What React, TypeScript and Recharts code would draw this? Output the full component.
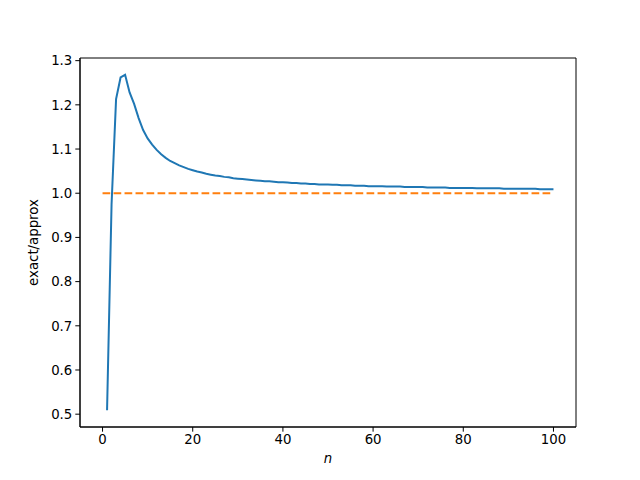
import { LineChart, Line, XAxis, YAxis, ReferenceArea } from "recharts"

// exact/approx ratio, for n = 1..100
const ratioValues = [
  0.509, 0.975, 1.213, 1.262, 1.268, 1.228, 1.202, 1.17, 1.143, 1.124,
  1.11, 1.098, 1.088, 1.08, 1.073, 1.068, 1.063, 1.059, 1.055, 1.052,
  1.049, 1.047, 1.044, 1.042, 1.04, 1.039, 1.037, 1.036, 1.034, 1.033,
  1.032, 1.031, 1.03, 1.029, 1.028, 1.027, 1.027, 1.026, 1.025, 1.025,
  1.024, 1.023, 1.023, 1.022, 1.022, 1.021, 1.021, 1.02, 1.02, 1.02,
  1.019, 1.019, 1.018, 1.018, 1.018, 1.017, 1.017, 1.017, 1.016, 1.016,
  1.016, 1.016, 1.015, 1.015, 1.015, 1.015, 1.014, 1.014, 1.014, 1.014,
  1.014, 1.013, 1.013, 1.013, 1.013, 1.013, 1.012, 1.012, 1.012, 1.012,
  1.012, 1.012, 1.011, 1.011, 1.011, 1.011, 1.011, 1.011, 1.01, 1.01,
  1.01, 1.01, 1.01, 1.01, 1.01, 1.01, 1.009, 1.009, 1.009, 1.009,
]
const referenceN = [0, 100]
const referenceValue = 1

const xTicks = [0, 20, 40, 60, 80, 100]
const yTicks = [0.5, 0.6, 0.7, 0.8, 0.9, 1.0, 1.1, 1.2, 1.3]
const xDomain = [-5, 105]
const yDomain = [0.471, 1.306]

const ratioData = ratioValues.map((v, i) => ({ n: i + 1, v }))
const refData = referenceN.map((n) => ({ n, v: referenceValue }))

const font = "'DejaVu Sans', sans-serif"
const tickStyle = { fontSize: 13.3, fill: "#000", fontFamily: font }

export default function App() {
  return (
    <div style={{ position: "absolute", left: 0, top: 0, width: 640, height: 480, background: "#fff" }}>
      <LineChart
        width={640}
        height={480}
        margin={{ top: 58, right: 64, bottom: 13, left: 20 }}
      >
        <XAxis
          dataKey="n"
          type="number"
          domain={xDomain}
          ticks={xTicks}
          allowDataOverflow
          height={40}
          stroke="#000"
          tickSize={4.7}
          tickMargin={3}
          tick={tickStyle}
          label={{ value: "n", position: "insideBottom", offset: 4, style: { fontSize: 13.3, fontStyle: "italic", fill: "#000", fontFamily: font } }}
        />
        <YAxis
          type="number"
          domain={yDomain}
          ticks={yTicks}
          allowDataOverflow
          width={60}
          stroke="#000"
          tickSize={4.7}
          tickMargin={3}
          tick={tickStyle}
          tickFormatter={(v: number) => v.toFixed(1)}
          label={{ value: "exact/approx", angle: -90, position: "insideLeft", offset: 13, style: { fontSize: 13.3, fill: "#000", fontFamily: font, textAnchor: "middle" } }}
        />
        {/* frame around the plot area */}
        <ReferenceArea
          x1={xDomain[0]}
          x2={xDomain[1]}
          y1={yDomain[0]}
          y2={yDomain[1]}
          fill="none"
          fillOpacity={0}
          stroke="#000"
          strokeWidth={1}
        />
        <Line
          data={ratioData}
          dataKey="v"
          stroke="#1f77b4"
          strokeWidth={2}
          dot={false}
          type="linear"
          isAnimationActive={false}
        />
        <Line
          data={refData}
          dataKey="v"
          stroke="#ff7f0e"
          strokeWidth={2}
          strokeDasharray="7.7 3.3"
          dot={false}
          type="linear"
          isAnimationActive={false}
        />
      </LineChart>
    </div>
  )
}
